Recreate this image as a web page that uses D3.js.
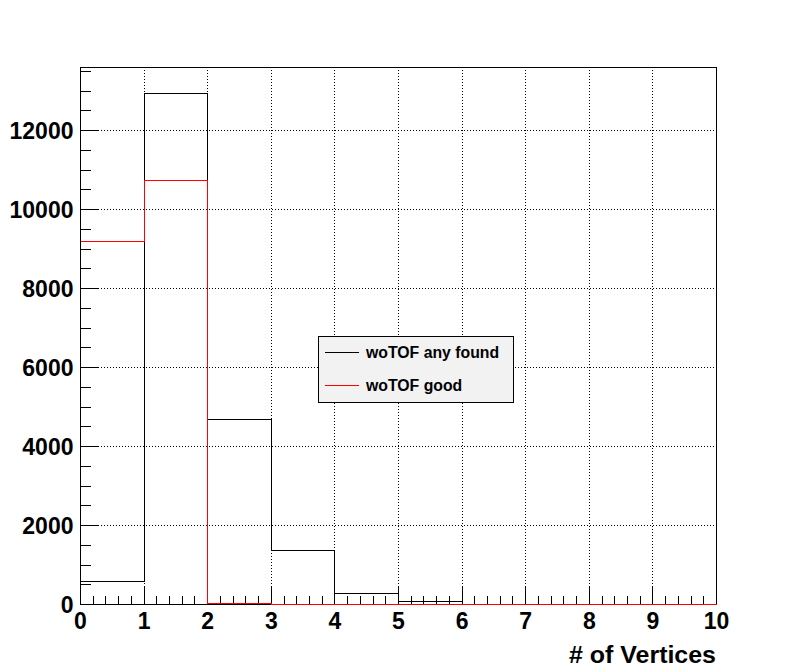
<!DOCTYPE html>
<html>
<head>
<meta charset="utf-8">
<script src="https://cdn.jsdelivr.net/npm/d3@7"></script>
<style>
  html, body { margin: 0; padding: 0; background: #fff; }
  svg { display: block; }
  text { font-family: "Liberation Sans", Arial, Helvetica, sans-serif; font-weight: bold; fill: #000; }
</style>
</head>
<body>
<svg id="chart" width="796" height="672"></svg>
<script>
// ---- data ----
const binEdges = [0, 1, 2, 3, 4, 5, 6, 7, 8, 9, 10];
const anyFound = [590, 12950, 4680, 1370, 290, 75, 0, 0, 0, 0];
const goodFound = [9190, 10750, 30, 0, 0, 0, 0, 0, 0, 0];
const seriesNames = ["woTOF any found", "woTOF good"];
const seriesColors = ["#000000", "#ff0000"];
const xTickValues = [0, 1, 2, 3, 4, 5, 6, 7, 8, 9, 10];
const yTickValues = [0, 2000, 4000, 6000, 8000, 10000, 12000];
const xTitle = "# of Vertices";

(function () {
  const mL = 80, mR = 716, mT = 67, mB = 604;

  const svg = d3.select("#chart");
  const x = d3.scaleLinear().domain([0, 10]).range([mL, mR]);
  const y = d3.scaleLinear().domain([0, 13600]).range([mB, mT]);
  const px = v => Math.round(x(v)) + 0.5;
  const py = v => Math.round(y(v)) + 0.5;

  const g = svg.append("g").attr("shape-rendering", "crispEdges");

  // grid
  xTickValues.forEach(v => {
    g.append("line")
      .attr("x1", px(v)).attr("x2", px(v))
      .attr("y1", mT).attr("y2", mB)
      .attr("stroke", "#000").attr("stroke-width", 1).attr("stroke-dasharray", "1,2");
  });
  yTickValues.forEach(v => {
    g.append("line")
      .attr("x1", mL).attr("x2", mR)
      .attr("y1", py(v)).attr("y2", py(v))
      .attr("stroke", "#000").attr("stroke-width", 1).attr("stroke-dasharray", "1,2");
  });

  // axes (ticks pointing inward)
  const yMinor = d3.range(0, 13600, 500).filter(v => v % 2000 !== 0);
  const yAxisMinor = d3.axisLeft(y).tickValues(yMinor).tickSize(-10).tickFormat("");
  const yAxis = d3.axisLeft(y).tickValues(yTickValues).tickSize(-18).tickPadding(7)
    .tickFormat(d3.format("d"));
  const xMinor = d3.range(0, 50).map(i => i * 0.2).filter((v, i) => i % 5 !== 0);
  const xAxisMinor = d3.axisBottom(x).tickValues(xMinor).tickSize(-9).tickFormat("");
  const xAxis = d3.axisBottom(x).tickValues(xTickValues).tickSize(-18).tickPadding(8)
    .tickFormat(d3.format("d"));

  function styleAxis(sel) {
    sel.select(".domain").remove();
    sel.selectAll("line").attr("stroke", "#000");
    sel.attr("shape-rendering", "crispEdges");
  }
  const ga1 = svg.append("g").attr("transform", `translate(${mL + 0.5},0)`).call(yAxisMinor); styleAxis(ga1);
  const ga2 = svg.append("g").attr("transform", `translate(${mL + 0.5},0)`).call(yAxis); styleAxis(ga2);
  const ga3 = svg.append("g").attr("transform", `translate(0,${mB + 0.5})`).call(xAxisMinor); styleAxis(ga3);
  const ga4 = svg.append("g").attr("transform", `translate(0,${mB + 0.5})`).call(xAxis); styleAxis(ga4);
  [ga2, ga4].forEach(a => a.selectAll("text")
    .style("font-size", "23px").style("font-weight", "bold")
    .style("font-family", '"Liberation Sans", Arial, sans-serif')
    .attr("fill", "#000"));
  ga2.selectAll("text").attr("dy", "0.36em");
  ga4.selectAll("text").attr("dy", "0.71em");

  // frame
  svg.append("rect")
    .attr("x", mL + 0.5).attr("y", mT + 0.5)
    .attr("width", mR - mL).attr("height", mB - mT)
    .attr("fill", "none").attr("stroke", "#000").attr("stroke-width", 1)
    .attr("shape-rendering", "crispEdges");

  // histograms (step outlines)
  const line = d3.line()
    .x(d => px(d[0]))
    .y(d => py(d[1]))
    .curve(d3.curveStepAfter);
  function stepPoints(vals, fromBase) {
    const pts = fromBase ? [[binEdges[0], 0]] : [];
    vals.forEach((v, i) => { pts.push([binEdges[i], v]); });
    pts.push([binEdges[binEdges.length - 1], vals[vals.length - 1]]);
    pts.push([binEdges[binEdges.length - 1], 0]);
    return pts;
  }
  [anyFound, goodFound].forEach((vals, i) => {
    svg.append("path")
      .attr("d", line(stepPoints(vals, i === 0)))
      .attr("fill", "none")
      .attr("stroke", seriesColors[i])
      .attr("stroke-width", 1)
      .attr("shape-rendering", "crispEdges");
  });

  // x title
  svg.append("text")
    .attr("x", mR).attr("y", 663)
    .attr("text-anchor", "end")
    .attr("textLength", 147)
    .attr("lengthAdjust", "spacingAndGlyphs")
    .style("font-size", "23px")
    .text(xTitle);

  // legend
  const lg = svg.append("g").attr("shape-rendering", "crispEdges");
  lg.append("rect")
    .attr("x", 318.5).attr("y", 336.5).attr("width", 195).attr("height", 66)
    .attr("fill", "#f2f2f2").attr("stroke", "#000").attr("stroke-width", 1);
  const legendY = [352.5, 385.5];
  seriesNames.forEach((name, i) => {
    lg.append("line")
      .attr("x1", 325).attr("x2", 359)
      .attr("y1", legendY[i]).attr("y2", legendY[i])
      .attr("stroke", seriesColors[i]).attr("stroke-width", 1);
    lg.append("text")
      .attr("x", 366).attr("y", legendY[i] + 5)
      .style("font-size", "15.8px")
      .text(name);
  });
})();
</script>
</body>
</html>
